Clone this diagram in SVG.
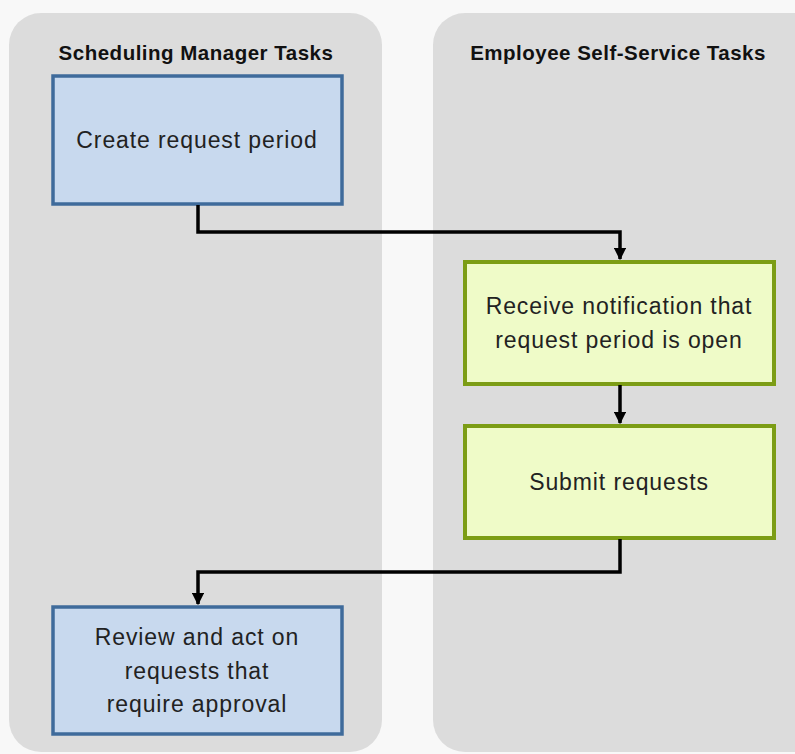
<svg xmlns="http://www.w3.org/2000/svg" width="795" height="754" viewBox="0 0 795 754">
<style>
.lane{fill:#dcdcdc}
.title{font-family:"Liberation Sans",Arial,sans-serif;font-weight:bold;font-size:20.5px;fill:#111;text-anchor:middle;letter-spacing:0.5px}
.lbl{font-family:"Liberation Sans",Arial,sans-serif;font-size:23px;fill:#222;text-anchor:middle;letter-spacing:0.9px}
.blue{fill:#c8d9ee;stroke:#3f6b9b;stroke-width:3.5}
.green{fill:#effbc8;stroke:#7c9d15;stroke-width:4}
.conn{fill:none;stroke:#000;stroke-width:3.5}
</style>
<defs>
<marker id="arr" viewBox="0 0 10 10" refX="9" refY="5" markerWidth="3.6" markerHeight="3.6" orient="auto" markerUnits="strokeWidth">
<path d="M0,0 L10,5 L0,10 Z" fill="#000"/>
</marker>
</defs>
<rect width="795" height="754" fill="#f8f8f8"/>
<g id="lane-manager">
<rect class="lane" x="9" y="13" width="373" height="739" rx="32"/>
<text class="title" x="196" y="60">Scheduling Manager Tasks</text>
</g>
<g id="lane-employee">
<rect class="lane" x="433" y="13" width="395" height="739" rx="32"/>
<text class="title" x="618" y="60">Employee Self-Service Tasks</text>
</g>
<g id="create">
<rect class="blue" x="53" y="76" width="289" height="128"/>
<text class="lbl" x="197" y="148">Create request period</text>
</g>
<g id="receive">
<rect class="green" x="465" y="262" width="309" height="122"/>
<text class="lbl" x="619" y="314">Receive notification that</text>
<text class="lbl" x="619" y="348">request period is open</text>
</g>
<g id="submit">
<rect class="green" x="465" y="426" width="309" height="112"/>
<text class="lbl" x="619" y="490">Submit requests</text>
</g>
<g id="review">
<rect class="blue" x="53" y="607" width="289" height="127"/>
<text class="lbl" x="197" y="645">Review and act on</text>
<text class="lbl" x="197" y="679">requests that</text>
<text class="lbl" x="197" y="712">require approval</text>
</g>
<g id="connectors">
<path class="conn" d="M198,205 V232 H620 V259" marker-end="url(#arr)"/>
<path class="conn" d="M620,385 V423" marker-end="url(#arr)"/>
<path class="conn" d="M620,539 V572 H198 V604" marker-end="url(#arr)"/>
</g>
</svg>
